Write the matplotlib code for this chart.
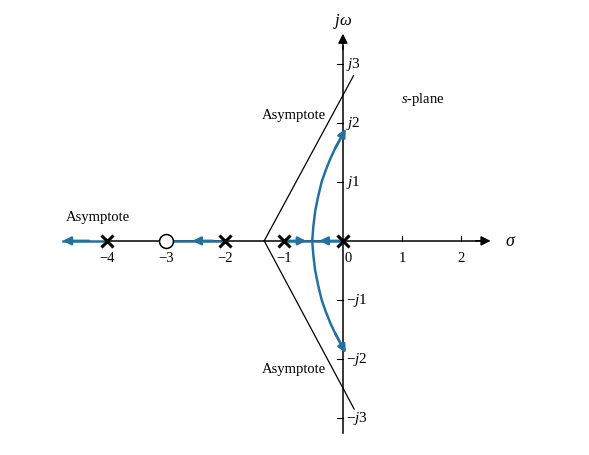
import matplotlib
matplotlib.use("Agg")
import matplotlib.pyplot as plt
import numpy as np

plt.rcParams['font.family'] = ['Liberation Serif', 'DejaVu Serif']
plt.rcParams['mathtext.fontset'] = 'custom'
plt.rcParams['mathtext.rm'] = 'Liberation Serif'
plt.rcParams['mathtext.it'] = 'Liberation Serif:italic'

# ---- data ----
poles = [0, -1, -2, -4]
zeros = [-3]
centroid = -4 / 3
x_ticks = [-4, -3, -2, -1, 0, 1, 2]
x_tick_labels = ['−4', '−3', '−2', '−1', '0', '1', '2']
y_ticks = [3, 2, 1, -1, -2, -3]
y_tick_labels = ['j3', 'j2', 'j1', '−j1', '−j2', '−j3']
# complex branch (upper half)
branch_sigma = [-0.52, -0.50, -0.47, -0.42, -0.36, -0.29, -0.21, -0.13, -0.05, 0.05]
branch_omega = [0.00, 0.25, 0.50, 0.75, 1.00, 1.20, 1.40, 1.57, 1.72, 1.90]
# asymptote end points
asym_end_upper = (0.18, 2.80)
asym_end_lower = (0.19, -2.85)
# real-axis locus segments (start, end) and arrow (tail, tip)
real_segments = [(-4.0, -4.75), (-3.0, -2.0), (-1.0, 0.0)]
real_arrows = [(-4.3, -4.75), (-2.2, -2.55), (-1.0, -0.62), (0.0, -0.40)]

blue = '#2670a0'

fig = plt.figure(figsize=(5.89, 4.56), dpi=100)
ax = fig.add_axes([0, 0, 1, 1])
ax.set_xlim(-5.81, 4.17)
ax.set_ylim(-3.63, 4.10)
ax.axis('off')

# axes
ax.plot([-4.0, 2.4], [0, 0], color='black', lw=1.1, zorder=2)
ax.annotate('', xy=(2.55, 0), xytext=(2.2, 0),
            arrowprops=dict(arrowstyle='-|>', color='black', lw=1.1, mutation_scale=14), zorder=3)
ax.plot([0, 0], [-3.25, 3.3], color='black', lw=1.1, zorder=2)
ax.annotate('', xy=(0, 3.56), xytext=(0, 3.2),
            arrowprops=dict(arrowstyle='-|>', color='black', lw=1.1, mutation_scale=14), zorder=3)
ax.text(2.75, 0.0, r'$\sigma$', fontsize=13, ha='left', va='center')
ax.text(0.0, 3.74, r'$j\omega$', fontsize=12, ha='center', va='center')

# ticks
for xt, lab in zip(x_ticks, x_tick_labels):
    if xt > 0:
        ax.plot([xt, xt], [0, 0.09], color='black', lw=0.8)
    dx = 0.09 if xt == 0 else 0
    ax.text(xt + dx, -0.17, lab, fontsize=10.5, ha='center', va='top')
for yt, lab in zip(y_ticks, y_tick_labels):
    ax.plot([-0.1, 0], [yt, yt], color='black', lw=0.8)
    if lab.startswith('−'):
        txt = '−' + r'$j$' + lab[2:]
    else:
        txt = r'$j$' + lab[1:]
    ax.text(0.05, yt, txt, fontsize=11, ha='left', va='center')

# asymptotes
ax.plot([centroid, asym_end_upper[0]], [0, asym_end_upper[1]], color='black', lw=0.9, zorder=2)
ax.plot([centroid, asym_end_lower[0]], [0, asym_end_lower[1]], color='black', lw=0.9, zorder=2)

# real-axis locus
for a, b in real_segments:
    ax.plot([a, b], [0, 0], color=blue, lw=1.8, zorder=3)
for tail, tip in real_arrows:
    ax.annotate('', xy=(tip, 0), xytext=(tail, 0),
                arrowprops=dict(arrowstyle='-|>', color=blue, lw=1.8, mutation_scale=12,
                                shrinkA=0, shrinkB=0), zorder=4)

# complex branches
bs = np.array(branch_sigma)
bw = np.array(branch_omega)
for sgn in (1, -1):
    ax.plot(bs[:-1], sgn * bw[:-1], color=blue, lw=1.8, zorder=3)
    ax.annotate('', xy=(bs[-1], sgn * bw[-1]), xytext=(bs[-3], sgn * bw[-3]),
                arrowprops=dict(arrowstyle='-|>', color=blue, lw=1.8, mutation_scale=12,
                                shrinkA=0, shrinkB=0), zorder=4)

# poles and zeros
ax.plot(poles, [0] * len(poles), linestyle='none', marker='x', markersize=9,
        markeredgewidth=2.2, color='black', zorder=5)
ax.plot(zeros, [0] * len(zeros), linestyle='none', marker='o', markersize=10,
        markerfacecolor='white', markeredgecolor='black', markeredgewidth=1.1, zorder=5)

# labels
ax.text(-4.7, 0.41, 'Asymptote', fontsize=10.5, ha='left', va='center')
ax.text(-0.28, 2.15, 'Asymptote', fontsize=10.5, ha='right', va='center')
ax.text(-0.28, -2.17, 'Asymptote', fontsize=10.5, ha='right', va='center')
ax.text(1.36, 2.41, r'$s$' + '-plane', fontsize=10.5, ha='center', va='center')

fig.savefig('out.png', dpi=100)
